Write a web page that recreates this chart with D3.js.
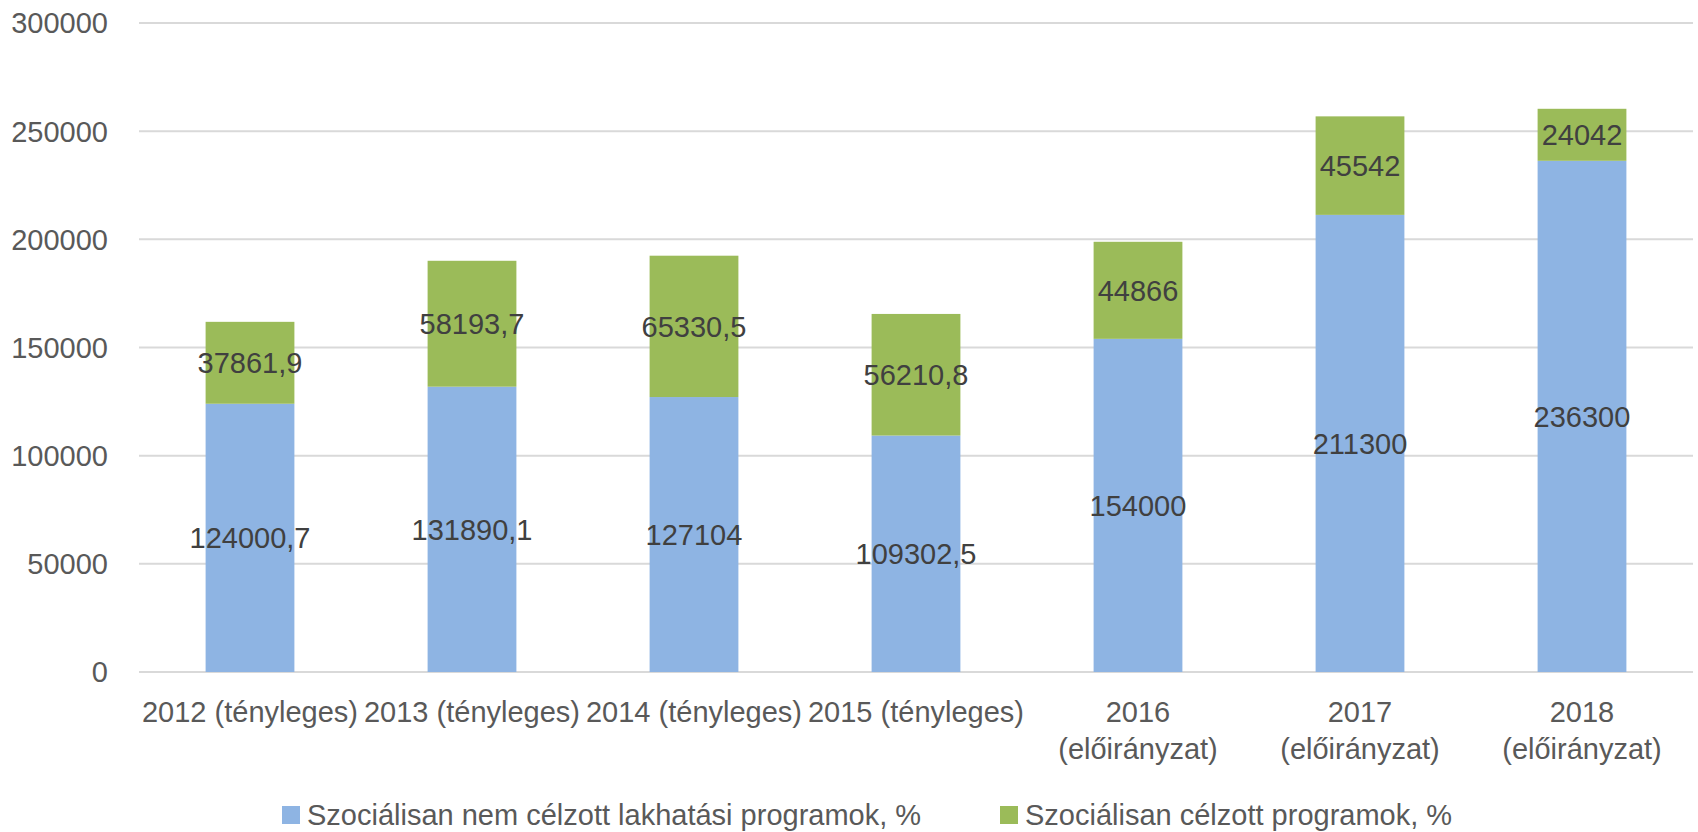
<!DOCTYPE html>
<html>
<head>
<meta charset="utf-8">
<script src="https://cdn.jsdelivr.net/npm/d3@7"></script>
<style>
  body { margin: 0; background: #fff; }
  text { font-family: "Liberation Sans", Arial, sans-serif; }
</style>
</head>
<body>
<svg id="chart" width="1698" height="832"></svg>
<script>
// adatok
const kategoriak = [
  ["2012 (tényleges)"], ["2013 (tényleges)"], ["2014 (tényleges)"], ["2015 (tényleges)"],
  ["2016", "(előirányzat)"], ["2017", "(előirányzat)"], ["2018", "(előirányzat)"]
];
const nemCelzott = [124000.7, 131890.1, 127104, 109302.5, 154000, 211300, 236300];
const celzott = [37861.9, 58193.7, 65330.5, 56210.8, 44866, 45542, 24042];
const yTicks = [0, 50000, 100000, 150000, 200000, 250000, 300000];
const sorozatNevek = ["Szociálisan nem célzott lakhatási programok, %", "Szociálisan célzott programok, %"];
const szinek = ["#8EB4E3", "#9BBB59"];

const svg = d3.select("#chart");
const bal = 139, jobb = 1693, felso = 23, also = 672;

const x = d3.scaleBand()
  .domain(d3.range(kategoriak.length))
  .range([bal, jobb])
  .paddingInner(0.6)
  .paddingOuter(0.3);

const y = d3.scaleLinear().domain([0, 300000]).range([also, felso]);

// rácsvonalak
svg.append("g").selectAll("line")
  .data(yTicks)
  .join("line")
  .attr("x1", bal).attr("x2", jobb)
  .attr("y1", d => y(d)).attr("y2", d => y(d))
  .attr("stroke", "#D9D9D9")
  .attr("stroke-width", 2);

// y tengely feliratok
svg.append("g").selectAll("text")
  .data(yTicks)
  .join("text")
  .attr("x", 108)
  .attr("y", d => y(d))
  .attr("dy", "0.36em")
  .attr("text-anchor", "end")
  .attr("font-size", 29)
  .attr("fill", "#595959")
  .text(d => d);

// halmozott oszlopok
const sorok = kategoriak.map((k, i) => ({ i, a: nemCelzott[i], b: celzott[i] }));
const stack = d3.stack().keys(["a", "b"])(sorok);

const fmt = v => String(v).replace(".", ",");

stack.forEach((reteg, si) => {
  const g = svg.append("g");
  g.selectAll("rect")
    .data(reteg)
    .join("rect")
    .attr("x", d => x(d.data.i))
    .attr("width", x.bandwidth())
    .attr("y", d => y(d[1]))
    .attr("height", d => y(d[0]) - y(d[1]))
    .attr("fill", szinek[si]);

  // értékcímkék a szegmens közepén
  g.selectAll("text")
    .data(reteg)
    .join("text")
    .attr("x", d => x(d.data.i) + x.bandwidth() / 2)
    .attr("y", d => (y(d[0]) + y(d[1])) / 2)
    .attr("dy", "0.36em")
    .attr("text-anchor", "middle")
    .attr("font-size", 29)
    .attr("fill", "#404040")
    .text(d => fmt(d.data[reteg.key]));
});

// kategória feliratok
const kat = svg.append("g").selectAll("text")
  .data(kategoriak)
  .join("text")
  .attr("text-anchor", "middle")
  .attr("font-size", 29)
  .attr("fill", "#595959");
kat.each(function(sorokSzoveg, i) {
  d3.select(this).selectAll("tspan")
    .data(sorokSzoveg)
    .join("tspan")
    .attr("x", x(i) + x.bandwidth() / 2)
    .attr("y", (d, j) => 722 + j * 37)
    .text(d => d);
});

// jelmagyarázat
const legendX = [282, 1000];
const leg = svg.append("g");
sorozatNevek.forEach((nev, i) => {
  leg.append("rect")
    .attr("x", legendX[i]).attr("y", 806)
    .attr("width", 18).attr("height", 18)
    .attr("fill", szinek[i]);
  leg.append("text")
    .attr("x", legendX[i] + 25).attr("y", 815)
    .attr("dy", "0.36em")
    .attr("font-size", 29)
    .attr("fill", "#595959")
    .text(nev);
});
</script>
</body>
</html>
